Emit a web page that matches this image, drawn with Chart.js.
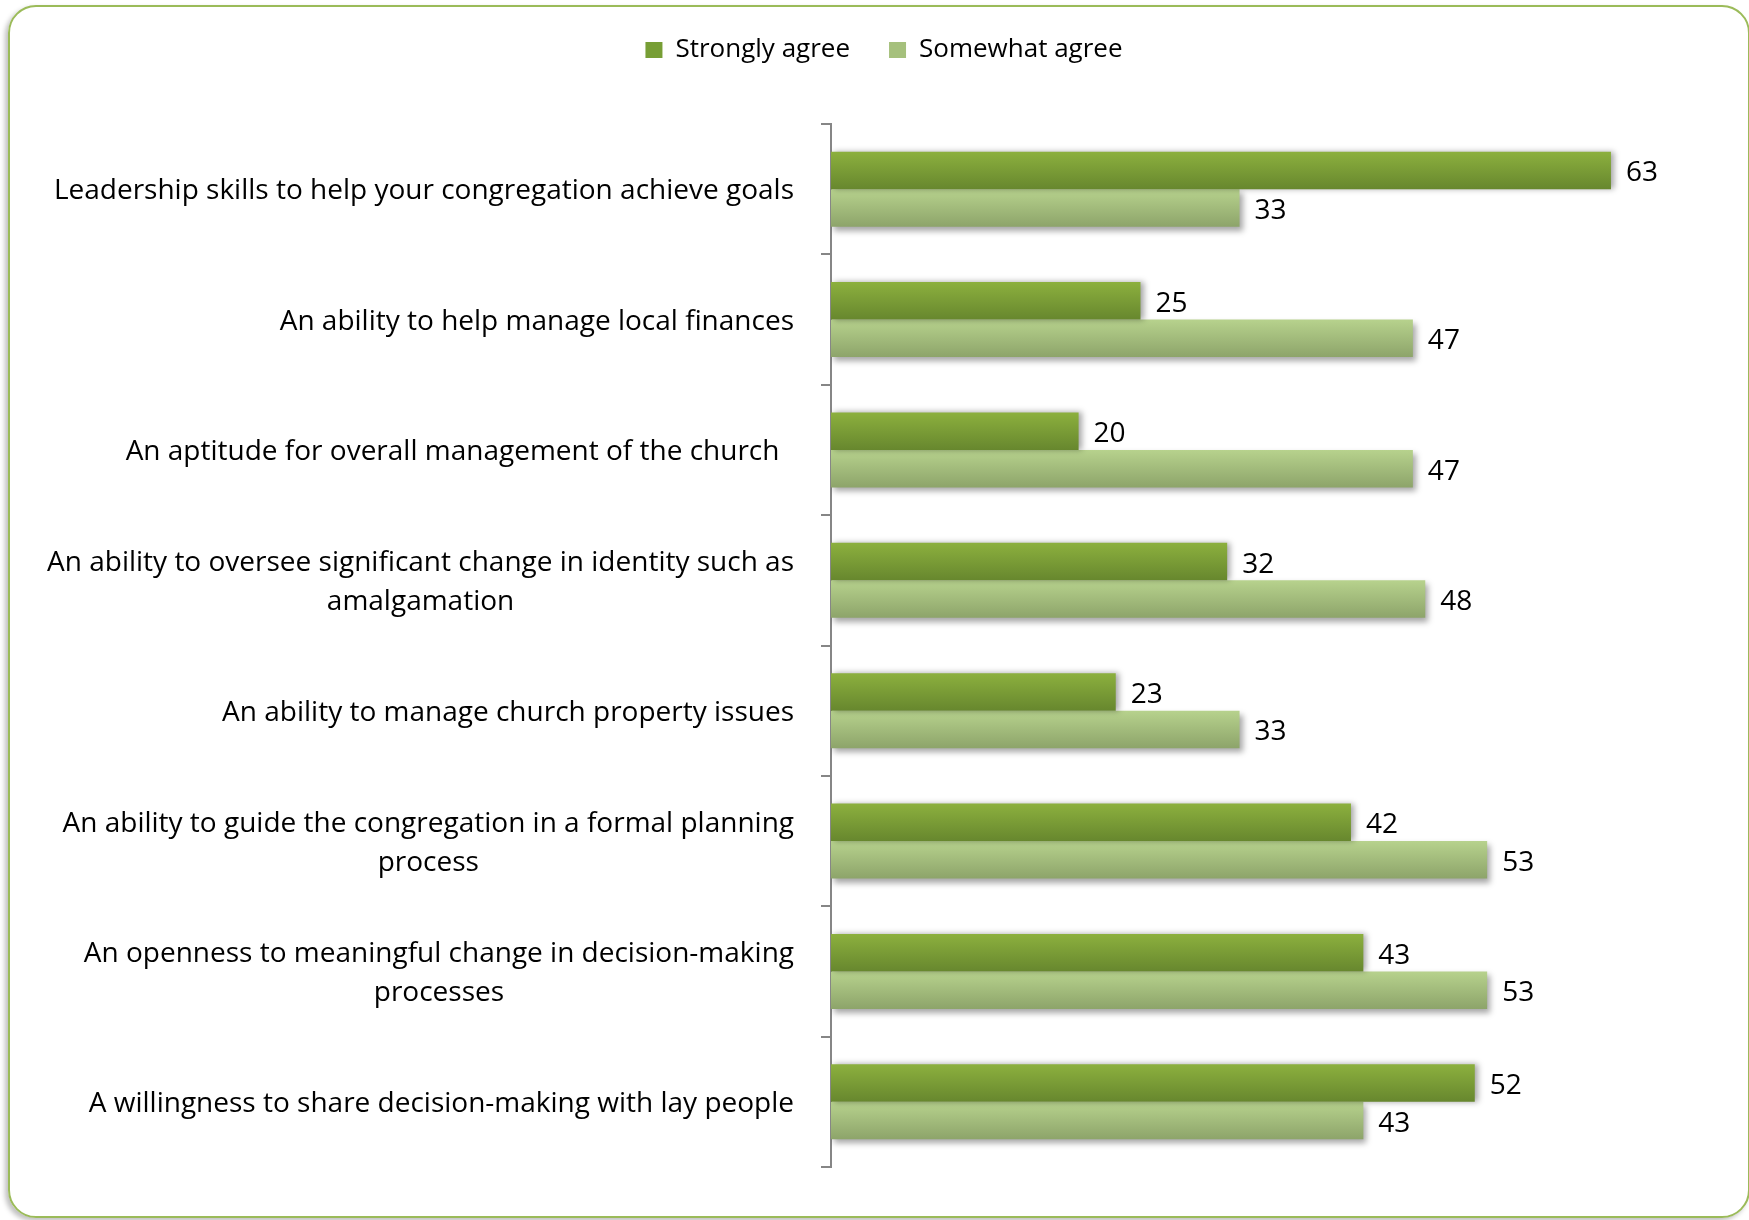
<!DOCTYPE html>
<html>
<head>
<meta charset="utf-8">
<script src="https://cdn.jsdelivr.net/npm/chart.js@4/dist/chart.umd.min.js"></script>
<style>
  html, body { margin: 0; padding: 0; background: #fff; overflow: hidden; }
  #frame {
    position: absolute; left: 8px; top: 5px; width: 1742px; height: 1213px;
    box-sizing: border-box; border: 2.5px solid #9bbb59; border-radius: 28px;
    box-shadow: -3px 3px 5px rgba(0,0,0,0.25);
  }
  #wrap { position: absolute; left: 0; top: 0; width: 1749px; height: 1220px; }
</style>
</head>
<body>
<div id="frame"></div>
<div id="wrap"><canvas id="myChart"></canvas></div>
<script>
const categories = [
  ['Leadership skills to help your congregation achieve goals'],
  ['An ability to help manage local finances'],
  ['An aptitude for overall management of the church  '],
  ['An ability to oversee significant change in identity such as', 'amalgamation'],
  ['An ability to manage church property issues'],
  ['An ability to guide the congregation in a formal planning', 'process'],
  ['An openness to meaningful change in decision-making', 'processes'],
  ['A willingness to share decision-making with lay people']
];
const stronglyAgree = [63, 25, 20, 32, 23, 42, 43, 52];
const somewhatAgree = [33, 47, 47, 48, 33, 53, 53, 43];
const seriesNames = ['Strongly agree', 'Somewhat agree'];

const FONT = '"Open Sans"';
const FS = 28;
const CAT_PCT = 0.575;

// vertical gradient for each bar, worked out from the category scale
const barGradient = (c, top, bottom) => {
  const chart = c.chart;
  const y = chart.scales.y;
  if (c.type !== 'data' || !y || !chart.chartArea) return top;
  const center = y.getPixelForValue(c.dataIndex);
  const h = (y.height / categories.length) * CAT_PCT / 2;
  const y0 = c.datasetIndex === 0 ? center - h : center;
  const g = chart.ctx.createLinearGradient(0, y0, 0, y0 + h);
  g.addColorStop(0, top);
  g.addColorStop(1, bottom);
  return g;
};

const barShadow = {
  id: 'barShadow',
  beforeDatasetDraw(chart, args) {
    const ctx = chart.ctx;
    ctx.save();
    ctx.shadowColor = 'rgba(0,0,0,0.35)';
    ctx.shadowBlur = 6;
    ctx.shadowOffsetX = 3;
    ctx.shadowOffsetY = args.index === 0 ? 0 : 4;
  },
  afterDatasetDraw(chart) {
    chart.ctx.restore();
  }
};

const valueLabels = {
  id: 'valueLabels',
  afterDatasetsDraw(chart) {
    const ctx = chart.ctx;
    ctx.save();
    ctx.font = FS + 'px ' + FONT;
    ctx.fillStyle = '#000';
    ctx.textAlign = 'left';
    ctx.textBaseline = 'middle';
    chart.data.datasets.forEach((ds, i) => {
      chart.getDatasetMeta(i).data.forEach((bar, j) => {
        ctx.fillText(String(ds.data[j]), bar.x + 15, bar.y + 3);
      });
    });
    ctx.restore();
  }
};

// category labels: lines centred inside a block that sits right-aligned to the axis
const categoryLabels = {
  id: 'categoryLabels',
  afterDraw(chart) {
    const ctx = chart.ctx;
    const y = chart.scales.y;
    const right = 794;
    const lineH = 39;
    ctx.save();
    ctx.font = FS + 'px ' + FONT;
    ctx.fillStyle = '#000';
    ctx.textAlign = 'center';
    ctx.textBaseline = 'middle';
    categories.forEach((lines, i) => {
      const w = Math.max(...lines.map(l => ctx.measureText(l).width));
      const cx = right - w / 2;
      const cy = y.getPixelForValue(i);
      const y0 = cy - (lines.length - 1) * lineH / 2;
      lines.forEach((l, k) => ctx.fillText(l, cx, y0 + k * lineH + 2));
    });
    ctx.restore();
  }
};

const legendSpace = {
  id: 'legendSpace',
  afterInit(chart) {
    const legend = chart.legend;
    const fit = legend.fit;
    legend.fit = function () {
      fit.call(this);
      this.height = 126;
    };
  }
};

const ctx = document.getElementById('myChart');
const lineChart = new Chart(ctx, {
  type: 'bar',
  data: {
    labels: categories,
    datasets: [
      {
        label: seriesNames[0],
        data: stronglyAgree,
        backgroundColor: c => barGradient(c, '#8cb03e', '#67872e'),
        borderWidth: 0,
        categoryPercentage: CAT_PCT,
        barPercentage: 1
      },
      {
        label: seriesNames[1],
        data: somewhatAgree,
        backgroundColor: c => barGradient(c, '#b7d28d', '#8da46a'),
        borderWidth: 0,
        categoryPercentage: CAT_PCT,
        barPercentage: 1
      }
    ]
  },
  options: {
    indexAxis: 'y',
    responsive: true,
    maintainAspectRatio: false,
    animation: false,
    layout: { padding: { top: -2, right: 0, bottom: 53, left: 19 } },
    scales: {
      x: { display: false, min: 0, max: 74.15 },
      y: {
        ticks: { display: false },
        grid: {
          offset: true,
          drawOnChartArea: false,
          drawTicks: true,
          tickLength: 10,
          color: '#868686',
          lineWidth: 2
        },
        border: { display: true, color: '#868686', width: 2 },
        afterFit: scale => { scale.width = 812; }
      }
    },
    plugins: {
      tooltip: { enabled: false },
      legend: {
        position: 'top',
        labels: {
          boxWidth: 17,
          boxHeight: 16,
          padding: 39,
          color: '#000',
          font: { family: FONT, size: 26 },
          generateLabels: () => [
            { text: seriesNames[0], fillStyle: '#779e35', strokeStyle: '#779e35', lineWidth: 0, datasetIndex: 0 },
            { text: seriesNames[1], fillStyle: '#a5c07c', strokeStyle: '#a5c07c', lineWidth: 0, datasetIndex: 1 }
          ]
        }
      }
    }
  },
  plugins: [legendSpace, barShadow, valueLabels, categoryLabels]
});
</script>
</body>
</html>
